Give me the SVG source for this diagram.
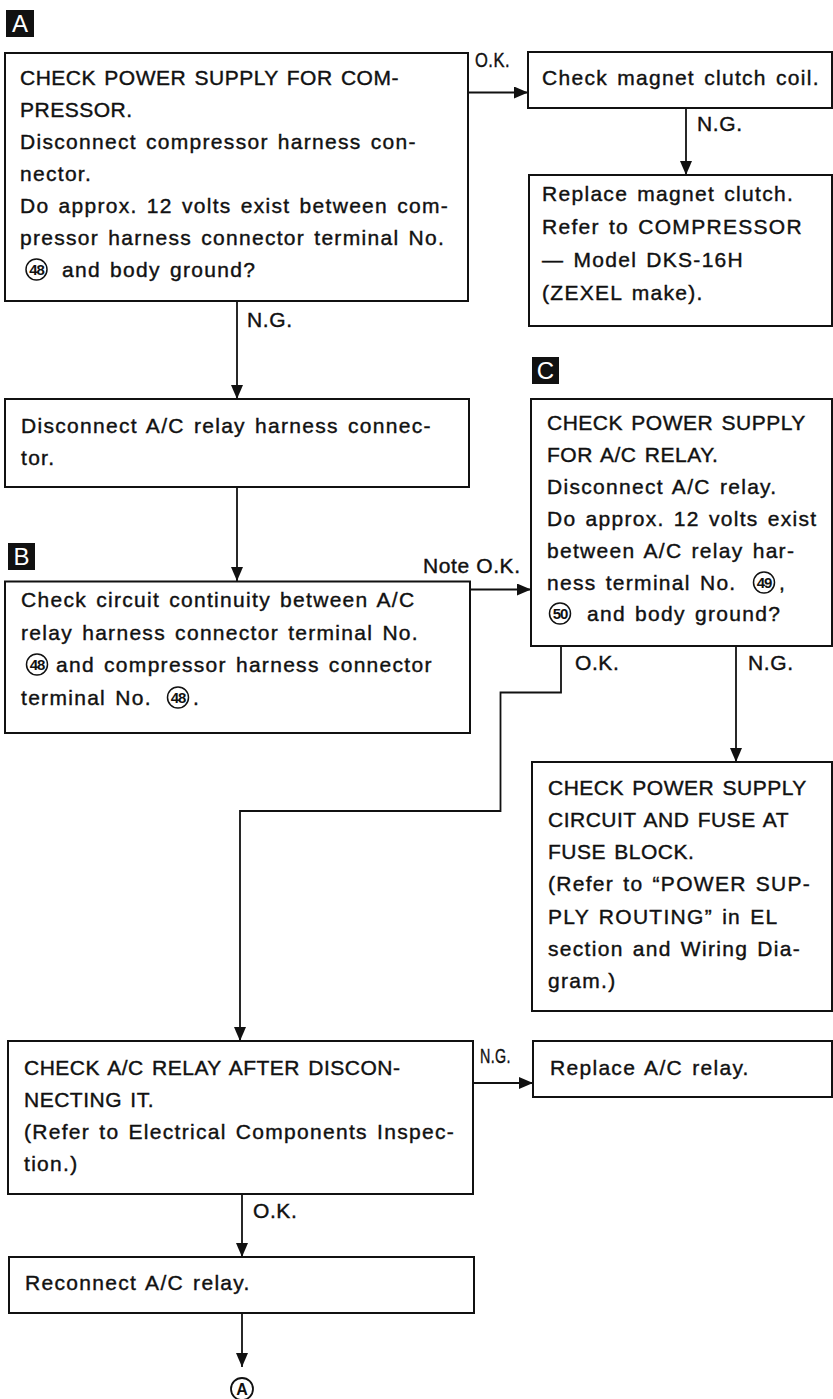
<svg xmlns="http://www.w3.org/2000/svg" width="833" height="1399" viewBox="0 0 833 1399">
  <defs>
    <style>
      .box{fill:#fff;stroke:#111;stroke-width:2}
      .t{font-family:"Liberation Sans",Arial,Helvetica,sans-serif;font-size:21px;fill:#111;stroke:#111;stroke-width:0.4px;letter-spacing:1.3px;word-spacing:2px}
      .u{letter-spacing:0.5px}
      .lbl{font-family:"Liberation Sans",Arial,Helvetica,sans-serif;font-size:21px;fill:#111;stroke:#111;stroke-width:0.4px;letter-spacing:0.6px}
      .wire{fill:none;stroke:#111;stroke-width:1.8}
      .badge{fill:#111}
      .bl{font-family:"Liberation Sans",Arial,Helvetica,sans-serif;font-size:24px;fill:#fff;text-anchor:middle}
      .cn circle{fill:none;stroke:#111;stroke-width:1.5}
      .cn text{font-family:"Liberation Sans Narrow","Liberation Sans",Arial,sans-serif;font-weight:bold;font-size:15px;text-anchor:middle;fill:#111;letter-spacing:-1px}
    </style>
    <marker id="ah" markerUnits="userSpaceOnUse" viewBox="0 0 15 12" markerWidth="15" markerHeight="12" refX="14" refY="6" orient="auto">
      <path d="M0,0 L14,6 L0,12 z" fill="#111"/>
    </marker>
  </defs>

  <rect width="833" height="1399" fill="#fff"/>

  <!-- section badges -->
  <g id="badge-a"><rect class="badge" x="6" y="10" width="28" height="27"/><text class="bl" x="20" y="32">A</text></g>
  <g id="badge-b"><rect class="badge" x="8" y="543" width="27" height="27"/><text class="bl" x="21.5" y="565">B</text></g>
  <g id="badge-c"><rect class="badge" x="532" y="357" width="27" height="27"/><text class="bl" x="545.5" y="379">C</text></g>

  <!-- connectors -->
  <g id="connectors">
    <path class="wire" d="M468,92.5 H528" marker-end="url(#ah)"/>
    <text class="lbl" x="475" y="67" textLength="35" lengthAdjust="spacingAndGlyphs">O.K.</text>

    <path class="wire" d="M686,108 V175" marker-end="url(#ah)"/>
    <text class="lbl" x="697" y="131">N.G.</text>

    <path class="wire" d="M237,301 V399" marker-end="url(#ah)"/>
    <text class="lbl" x="247" y="327">N.G.</text>

    <path class="wire" d="M237,487 V581" marker-end="url(#ah)"/>

    <path class="wire" d="M470,589.5 H531" marker-end="url(#ah)"/>
    <text class="lbl" x="423" y="573">Note O.K.</text>

    <path class="wire" d="M561,646 V692.5 H500.5 V811 H240 V1041" marker-end="url(#ah)"/>
    <text class="lbl" x="575" y="670">O.K.</text>

    <path class="wire" d="M736,646 V762" marker-end="url(#ah)"/>
    <text class="lbl" x="748" y="670">N.G.</text>

    <path class="wire" d="M473,1083 H533" marker-end="url(#ah)"/>
    <text class="lbl" x="480" y="1063" textLength="31" lengthAdjust="spacingAndGlyphs">N.G.</text>

    <path class="wire" d="M242,1194 V1257" marker-end="url(#ah)"/>
    <text class="lbl" x="253" y="1218">O.K.</text>

    <path class="wire" d="M242,1313 V1367" marker-end="url(#ah)"/>
  </g>

  <!-- A: compressor power supply check -->
  <g id="node-check-compressor-supply">
    <rect class="box" x="5" y="53" width="463" height="248"/>
    <text class="t u" x="20" y="85">CHECK POWER SUPPLY FOR COM-</text>
    <text class="t u" x="20" y="117">PRESSOR.</text>
    <text class="t" x="20" y="149">Disconnect compressor harness con-</text>
    <text class="t" x="20" y="181">nector.</text>
    <text class="t" x="20" y="213">Do approx. 12 volts exist between com-</text>
    <text class="t" x="20" y="245">pressor harness connector terminal No.</text>
    <g class="cn"><circle cx="36.5" cy="269.5" r="10.5"/><text x="36.5" y="275">48</text></g>
    <text class="t" x="62" y="277">and body ground?</text>
  </g>

  <g id="node-check-clutch-coil">
    <rect class="box" x="528" y="52" width="304" height="56"/>
    <text class="t" x="542" y="85">Check magnet clutch coil.</text>
  </g>

  <g id="node-replace-clutch">
    <rect class="box" x="529" y="175" width="303" height="151"/>
    <text class="t" x="542" y="201">Replace magnet clutch.</text>
    <text class="t" x="542" y="234">Refer to COMPRESSOR</text>
    <text class="t" x="542" y="267">— Model DKS-16H</text>
    <text class="t" x="542" y="300">(ZEXEL make).</text>
  </g>

  <g id="node-disconnect-relay-connector">
    <rect class="box" x="5" y="399" width="464" height="88"/>
    <text class="t" x="21" y="433">Disconnect A/C relay harness connec-</text>
    <text class="t" x="21" y="465">tor.</text>
  </g>

  <!-- B: circuit continuity -->
  <g id="node-check-continuity">
    <rect class="box" x="5" y="581.5" width="465" height="151.5"/>
    <text class="t" x="21" y="607">Check circuit continuity between A/C</text>
    <text class="t" x="21" y="640">relay harness connector terminal No.</text>
    <g class="cn"><circle cx="37" cy="664.5" r="10.5"/><text x="37" y="670">48</text></g>
    <text class="t" x="56" y="672">and compressor harness connector</text>
    <text class="t" x="21" y="705">terminal No.</text>
    <g class="cn"><circle cx="178" cy="697.5" r="10.5"/><text x="178" y="703">48</text></g>
    <text class="t" x="193" y="705">.</text>
  </g>

  <!-- C: relay power supply -->
  <g id="node-check-relay-supply">
    <rect class="box" x="531" y="399" width="301" height="247"/>
    <text class="t u" x="547" y="430">CHECK POWER SUPPLY</text>
    <text class="t u" x="547" y="462">FOR A/C RELAY.</text>
    <text class="t" x="547" y="494">Disconnect A/C relay.</text>
    <text class="t" x="547" y="526">Do approx. 12 volts exist</text>
    <text class="t" x="547" y="558">between A/C relay har-</text>
    <text class="t" x="547" y="590">ness terminal No.</text>
    <g class="cn"><circle cx="764" cy="582.5" r="10.5"/><text x="764" y="588">49</text></g>
    <text class="t" x="779" y="590">,</text>
    <g class="cn"><circle cx="560" cy="613.5" r="10.5"/><text x="560" y="619">50</text></g>
    <text class="t" x="587" y="621">and body ground?</text>
  </g>

  <g id="node-check-fuse">
    <rect class="box" x="532" y="762" width="300" height="249"/>
    <text class="t u" x="548" y="795">CHECK POWER SUPPLY</text>
    <text class="t u" x="548" y="827">CIRCUIT AND FUSE AT</text>
    <text class="t u" x="548" y="859">FUSE BLOCK.</text>
    <text class="t" x="548" y="891">(Refer to “POWER SUP-</text>
    <text class="t" x="548" y="923.5">PLY ROUTING” in EL</text>
    <text class="t" x="548" y="956">section and Wiring Dia-</text>
    <text class="t" x="548" y="988">gram.)</text>
  </g>

  <g id="node-check-relay">
    <rect class="box" x="8" y="1041" width="465" height="153"/>
    <text class="t u" x="24" y="1075">CHECK A/C RELAY AFTER DISCON-</text>
    <text class="t u" x="24" y="1107">NECTING IT.</text>
    <text class="t" x="24" y="1139">(Refer to Electrical Components Inspec-</text>
    <text class="t" x="24" y="1171">tion.)</text>
  </g>

  <g id="node-replace-relay">
    <rect class="box" x="533" y="1041" width="299" height="56"/>
    <text class="t" x="550" y="1075">Replace A/C relay.</text>
  </g>

  <g id="node-reconnect-relay">
    <rect class="box" x="9" y="1257" width="465" height="56"/>
    <text class="t" x="25" y="1290">Reconnect A/C relay.</text>
  </g>

  <g id="node-goto-a">
    <circle cx="242" cy="1389" r="11" fill="none" stroke="#111" stroke-width="1.8"/>
    <text x="242" y="1395" text-anchor="middle" font-family="Liberation Sans Narrow, Liberation Sans, Arial, sans-serif" font-weight="bold" font-size="16" fill="#111">A</text>
  </g>
</svg>
